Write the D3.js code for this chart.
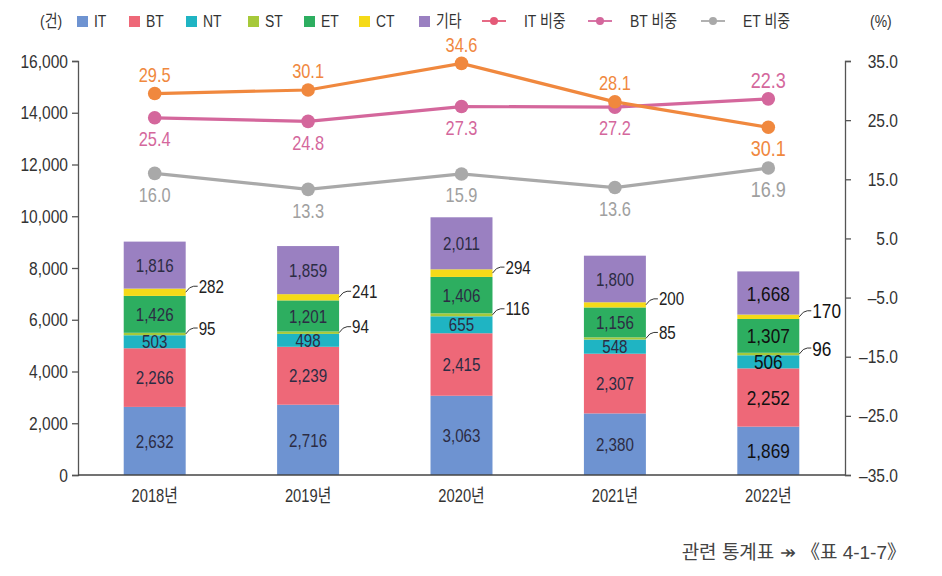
<!DOCTYPE html>
<html><head><meta charset="utf-8">
<script src="https://cdn.jsdelivr.net/npm/d3@7"></script>
<style>
body{margin:0;background:#fff;}
svg{font-family:'Liberation Sans','Noto Sans CJK KR',sans-serif;}
</style></head>
<body><svg id="c" width="942" height="576"></svg>
<script>
const years = ["2018년","2019년","2020년","2021년","2022년"];
const seriesNames = ["IT","BT","NT","ST","ET","CT","기타"];
const IT  = [2632,2716,3063,2380,1869];
const BT  = [2266,2239,2415,2307,2252];
const NT  = [503,498,655,548,506];
const ST  = [95,94,116,85,96];
const ET  = [1426,1201,1406,1156,1307];
const CT  = [282,241,294,200,170];
const ETC = [1816,1859,2011,1800,1668];
const barColors = ["#6E93D1","#EE6878","#1FB4C3","#A6C93A","#2DAE60","#F5DA18","#9A80C1"];

const lineNames = ["IT 비중","BT 비중","ET 비중"];
const itShare = [29.5,30.1,34.6,28.1,23.8];
const btShare = [25.4,24.8,27.3,27.2,28.6];
const etShare = [16.0,13.3,15.9,13.6,16.9];
const itShareLabels = ["29.5","30.1","34.6","28.1","30.1"];
const btShareLabels = ["25.4","24.8","27.3","27.2","22.3"];
const etShareLabels = ["16.0","13.3","15.9","13.6","16.9"];
const lineColors = ["#F0883E","#D4679C","#A9A9A9"];
const lineLegendColors = ["#E45A78","#D4679C","#A9A9A9"];

const leftTicks = [0,2000,4000,6000,8000,10000,12000,14000,16000];
const rightTicks = [-35,-25,-15,-5,5,15,25,35];

const S = 0.82; // horizontal condensing of text
function condense(sel){
  sel.each(function(){
    const t = d3.select(this);
    const x0 = +t.attr("x") || 0;
    t.attr("x", x0/S).attr("transform", `scale(${S},1)`);
  });
  return sel;
}

const svg = d3.select("#c");
const X0=78, X1=845, Y0=475, Y1=61;
const x = d3.scaleBand().domain(years).range([X0,X1]).paddingInner(0.596).paddingOuter(0.298);
const y = d3.scaleLinear().domain([0,16000]).range([Y0,Y1]);
const y2 = d3.scaleLinear().domain([-35,35]).range([Y0,Y1]);

// stacked bars
const valuesBySeries = [IT,BT,NT,ST,ET,CT,ETC];
const rows = years.map((yr,i)=>{const o={year:yr}; seriesNames.forEach((s,k)=>o[s]=valuesBySeries[k][i]); return o;});
const stack = d3.stack().keys(seriesNames)(rows);
const g = svg.append("g");
stack.forEach((layer,k)=>{
  g.selectAll(null).data(layer).enter().append("rect")
    .attr("x",d=>x(d.data.year)).attr("width",x.bandwidth())
    .attr("y",d=>y(d[1])).attr("height",d=>y(d[0])-y(d[1]))
    .attr("fill",barColors[k]);
});
const inside = ["IT","BT","NT","ET","기타"];
stack.forEach((layer,k)=>{
  const name = seriesNames[k];
  layer.forEach((d,i)=>{
    const last = i===years.length-1;
    const cx = x(d.data.year)+x.bandwidth()/2;
    const cy = (y(d[0])+y(d[1]))/2;
    const val = d.data[name];
    if(inside.includes(name)){
      condense(g.append("text").attr("x",cx).attr("y",cy).attr("dy","0.36em")
        .attr("text-anchor","middle").attr("font-size",last?21:18.5)
        .attr("fill",last?"#111":"#2C2C44").text(d3.format(",")(val)));
    } else {
      const bx = x(d.data.year)+x.bandwidth();
      const ty = cy-6;
      g.append("path").attr("d",`M${bx},${cy} Q${bx+4},${ty} ${bx+8},${ty} L${bx+12},${ty}`)
        .attr("fill","none").attr("stroke","#333").attr("stroke-width",1);
      condense(g.append("text").attr("x",bx+13).attr("y",ty).attr("dy","0.36em")
        .attr("font-size",last?21:18.5).attr("fill",last?"#111":"#222").text(val));
    }
  });
});

// axes
const axL = svg.append("g").attr("transform",`translate(${X0},0)`)
  .call(d3.axisLeft(y).tickValues(leftTicks).tickFormat(d3.format(",")).tickSizeOuter(0).tickSize(6).tickPadding(4));
axL.attr("font-family",null);
axL.selectAll("text").attr("font-size",19).attr("fill","#333");
condense(axL.selectAll("text"));
axL.selectAll("line,path").attr("stroke","#555").attr("stroke-width",1.3);

const axR = svg.append("g").attr("transform",`translate(${X1},0)`)
  .call(d3.axisRight(y2).tickValues(rightTicks).tickFormat(d=>d3.format(".1f")(d).replace("−","–")).tickSizeOuter(0).tickSize(6));
axR.attr("font-family",null);
axR.selectAll("text").attr("font-size",19).attr("fill","#333").attr("x",53).attr("text-anchor","end");
condense(axR.selectAll("text"));
axR.selectAll("line,path").attr("stroke","#555").attr("stroke-width",1.3);

svg.append("line").attr("x1",X0).attr("x2",X1).attr("y1",Y0).attr("y2",Y0).attr("stroke","#444").attr("stroke-width",1.3);
condense(svg.selectAll(null).data(years).enter().append("text")
  .attr("x",d=>x(d)+x.bandwidth()/2).attr("y",496).attr("dy","0.36em")
  .attr("text-anchor","middle").attr("font-size",18).attr("fill","#333").text(d=>d));

// lines
const lineData = [itShare,btShare,etShare];
const lineLabels = [itShareLabels,btShareLabels,etShareLabels];
const cxs = years.map(yr=>x(yr)+x.bandwidth()/2);
const lineGen = d3.line().x((d,i)=>cxs[i]).y(d=>y2(d));
[2,1,0].forEach(k=>{
  svg.append("path").datum(lineData[k]).attr("d",lineGen).attr("fill","none")
    .attr("stroke",lineColors[k]).attr("stroke-width",3.2);
  svg.selectAll(null).data(lineData[k]).enter().append("circle")
    .attr("cx",(d,i)=>cxs[i]).attr("cy",d=>y2(d)).attr("r",6.8).attr("fill",lineColors[k]);
});
const place = [[-1,-1,-1,-1,1],[1,1,1,1,-1],[1,1,1,1,1]];
const labelColors = ["#F0883E","#D4679C","#A0A0A0"];
lineData.forEach((arr,k)=>{
  arr.forEach((v,i)=>{
    const last = i===years.length-1;
    const off = place[k][i]<0 ? -19 : 21;
    condense(svg.append("text").attr("x",cxs[i]).attr("y",y2(v)+off).attr("dy","0.36em")
      .attr("text-anchor","middle").attr("font-size",last?22:20)
      .attr("fill",labelColors[k]).text(lineLabels[k][i]));
  });
});

// legend
const lg = svg.append("g");
condense(lg.append("text").attr("x",40).attr("y",21).attr("dy","0.36em").attr("font-size",17).attr("fill","#333").text("(건)"));
const sqX = [77,129,186,248,304,359,419];
seriesNames.forEach((s,k)=>{
  lg.append("rect").attr("x",sqX[k]).attr("y",16).attr("width",11).attr("height",11).attr("fill",barColors[k]);
  condense(lg.append("text").attr("x",sqX[k]+17).attr("y",21).attr("dy","0.36em").attr("font-size",17).attr("fill","#333").text(s));
});
const lnX = [482,588,701];
lineNames.forEach((s,k)=>{
  lg.append("line").attr("x1",lnX[k]).attr("x2",lnX[k]+24).attr("y1",21).attr("y2",21).attr("stroke",lineLegendColors[k]).attr("stroke-width",1.8);
  lg.append("circle").attr("cx",lnX[k]+12).attr("cy",21).attr("r",4).attr("fill",lineLegendColors[k]);
  condense(lg.append("text").attr("x",lnX[k]+42).attr("y",21).attr("dy","0.36em").attr("font-size",17).attr("fill","#333").text(s));
});
condense(lg.append("text").attr("x",870).attr("y",21).attr("dy","0.36em").attr("font-size",17).attr("fill","#333").text("(%)"));

svg.append("text").attr("x",906).attr("y",552).attr("dy","0.36em").attr("text-anchor","end")
  .attr("font-size",19).attr("fill","#444").text("관련 통계표 ↠ 《표 4-1-7》");
</script></body></html>
